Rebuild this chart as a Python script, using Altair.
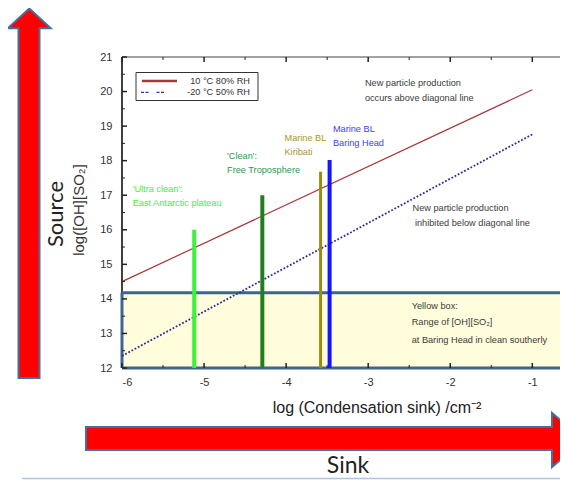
import altair as alt
import pandas as pd

# ---------------- data ----------------
series_names = ["10 °C 80% RH", "-20 °C 50% RH"]
line_x = [-6.0, -1.0]
warm_y = [14.5, 20.05]      # 10 °C 80% RH
cold_y = [12.35, 18.76]     # -20 °C 50% RH

site_names = ["East Antarctic plateau", "Free Troposphere", "Marine BL Kiribati", "Marine BL Baring Head"]
site_x = [-5.12, -4.29, -3.58, -3.47]
site_top = [16.0, 17.0, 17.68, 18.02]
site_base = 12.0

box_range = [12.0, 14.18]

x_tick_labels = [-6, -5, -4, -3, -2, -1]
x_minor = [-5.5, -4.5, -3.5, -2.5, -1.5]
y_tick_labels = [12, 13, 14, 15, 16, 17, 18, 19, 20, 21]
y_minor = [12.5, 13.5, 14.5, 15.5, 16.5, 17.5, 18.5, 19.5, 20.5]

ann_text = ["'Ultra clean':", "East Antarctic plateau",
            "'Clean':", "Free Troposphere",
            "Marine BL", "Kiribati",
            "Marine BL", "Baring Head",
            "New particle production", "occurs above diagonal line",
            "New particle production", "inhibited below diagonal line",
            "Yellow box:", "Range of [OH][SO₂]", "at Baring Head in clean southerly"]
ann_x = [-5.87, -5.87, -4.72, -4.72, -4.02, -4.02, -3.43, -3.43,
         -3.04, -3.04, -2.46, -2.43, -2.47, -2.47, -2.47]
ann_y = [17.18, 16.77, 18.14, 17.73, 18.65, 18.25, 18.92, 18.50,
         20.24, 19.82, 16.62, 16.19, 13.80, 13.34, 12.81]
ann_group = [0, 0, 1, 1, 2, 2, 3, 3, 4, 4, 4, 4, 4, 4, 4]

# ---------------- styles ----------------
site_colors = ["#3cf23c", "#1f7f1f", "#9a8c12", "#1414ff"]
site_widths = [4, 4, 3, 4]
ann_colors = ["#3ef03e", "#2f9a4f", "#a8962a", "#4040ff", "#3a3a3a"]
FONT = "Liberation Sans"
W, H = 438, 311
XMAX = -6 + W / 82.06

XS = alt.Scale(domain=[-6, XMAX], nice=False, zero=False)
YS = alt.Scale(domain=[12, 21], nice=False, zero=False)
XAX = alt.Axis(values=x_tick_labels, labelExpr="'' + datum.value", ticks=False, tickSize=0,
               domain=False, grid=False, labelPadding=8, labelFontSize=11, labelFont=FONT,
               labelColor="#333333", title=None)
YAX = alt.Axis(values=y_tick_labels, labelExpr="'' + datum.value", ticks=False, tickSize=0,
               domain=False, grid=False, labelPadding=10, labelFontSize=11, labelFont=FONT,
               labelColor="#333333", title=None)


def X(f="x"):
    return alt.X(f"{f}:Q", scale=XS, axis=XAX, title=None)


def Y(f="y"):
    return alt.Y(f"{f}:Q", scale=YS, axis=YAX, title=None)


one = alt.Data(values=[{"a": 1}])

# yellow box
box_df = pd.DataFrame({"x": [-6.0], "x2": [XMAX], "y": [box_range[0]], "y2": [box_range[1]]})
box_fill = alt.Chart(box_df).mark_rect(fill="#fffddc").encode(
    x=X(), x2="x2:Q", y=Y(), y2="y2:Q")

border_df = pd.DataFrame({
    "x": [-6.0, -6.0, -6.0], "x2": [XMAX, XMAX, -6.0],
    "y": [box_range[1], box_range[0], box_range[0]],
    "y2": [box_range[1], box_range[0], box_range[1]]})
box_border = alt.Chart(border_df).mark_rule(color="#3d6590", strokeWidth=3).encode(
    x=X(), x2="x2:Q", y=Y(), y2="y2:Q")

# plot frame (top and left; the right side runs off the picture)
frame_top = alt.Chart(one).mark_rule(color="#444444", strokeWidth=1).encode(
    x=alt.value(0), x2=alt.value(W), y=alt.value(0), y2=alt.value(0))
frame_left = alt.Chart(one).mark_rule(color="#111111", strokeWidth=1.6).encode(
    x=alt.value(0), x2=alt.value(0), y=alt.value(0), y2=alt.value(H))

# diagonal lines
warm_df = pd.DataFrame({"x": line_x, "y": warm_y})
cold_df = pd.DataFrame({"x": line_x, "y": cold_y})
warm = alt.Chart(warm_df).mark_line(color="#a83838", strokeWidth=1.2).encode(x=X(), y=Y())
cold = alt.Chart(cold_df).mark_line(color="#2b2b9a", strokeWidth=1.8, strokeDash=[1.8, 1.8]).encode(x=X(), y=Y())

# site bars
site_df = pd.DataFrame({"site": site_names, "x": site_x, "y": [site_base] * 4, "y2": site_top,
                        "c": site_colors, "w": site_widths})
bars = alt.Chart(site_df).mark_rule().encode(
    x=X(), y=Y(), y2="y2:Q",
    color=alt.Color("c:N", scale=None),
    strokeWidth=alt.StrokeWidth("w:Q", scale=None))


# tick marks (inward)
def xticks(vals, y0, y1, w):
    return alt.Chart(pd.DataFrame({"x": vals})).mark_rule(color="#222222", strokeWidth=w).encode(
        x=X(), y=alt.value(y0), y2=alt.value(y1))


def yticks(vals, x0, x1, w):
    return alt.Chart(pd.DataFrame({"y": vals})).mark_rule(color="#222222", strokeWidth=w).encode(
        y=Y(), x=alt.value(x0), x2=alt.value(x1))


ticks = [
    xticks(x_tick_labels, 0, 5, 1.5), xticks(x_minor, 0, 3, 1),
    xticks(x_tick_labels, H, H - 5, 1.5), xticks(x_minor, H, H - 3, 1),
    yticks(y_tick_labels, 0, 5, 1.5), yticks(y_minor, 0, 3, 1),
]

# annotations
ann_df = pd.DataFrame({"text": ann_text, "x": ann_x, "y": ann_y,
                       "c": [ann_colors[g] for g in ann_group]})
ann = alt.Chart(ann_df).mark_text(align="left", baseline="middle", font=FONT, fontSize=9.2).encode(
    x=X(), y=Y(), text="text:N", color=alt.Color("c:N", scale=None))

# legend (drawn)
leg_box = alt.Chart(one).mark_rect(fill="white", stroke="#333333", strokeWidth=1).encode(
    x=alt.value(14), x2=alt.value(136), y=alt.value(15.5), y2=alt.value(43.5))
leg_warm = alt.Chart(one).mark_rule(color="#a83838", strokeWidth=2.5).encode(
    x=alt.value(20), x2=alt.value(55), y=alt.value(24), y2=alt.value(24))
leg_cold = alt.Chart(one).mark_rule(color="#3030c0", strokeWidth=1.3, strokeDash=[3, 1.5, 3, 8]).encode(
    x=alt.value(19), x2=alt.value(45), y=alt.value(35.3), y2=alt.value(35.3))
leg_t1 = alt.Chart(one).mark_text(text=series_names[0], align="right", baseline="middle", font=FONT,
                                  fontSize=9.2, color="#333333").encode(x=alt.value(128), y=alt.value(24))
leg_t2 = alt.Chart(one).mark_text(text=series_names[1], align="right", baseline="middle", font=FONT,
                                  fontSize=9.2, color="#333333").encode(x=alt.value(128), y=alt.value(35.3))

# titles
ytitle = alt.Chart(one).mark_text(text="log([OH][SO₂]", angle=270, align="center", baseline="middle",
                                  font=FONT, fontSize=15, color="#333333").encode(
    x=alt.value(-43), y=alt.value(153))
source = alt.Chart(one).mark_text(text="Source", angle=270, align="center", baseline="middle",
                                  font="Lato", fontSize=22, color="#222222").encode(
    x=alt.value(-66), y=alt.value(157))
xtitle = alt.Chart(one).mark_text(text="log (Condensation sink) /cm⁻²", align="center", baseline="middle",
                                  font=FONT, fontSize=16, color="#222222").encode(
    x=alt.value(255), y=alt.value(351))
sink = alt.Chart(one).mark_text(text="Sink", align="center", baseline="alphabetic",
                                font="Lato", fontSize=23, color="#222222").encode(
    x=alt.value(226), y=alt.value(416))
bottom_line = alt.Chart(one).mark_rule(color="#a9c6e4", strokeWidth=1.5).encode(
    x=alt.value(-100), x2=alt.value(W), y=alt.value(421.5), y2=alt.value(421.5))

# arrows (custom symbol paths in pixels; size 4 -> unit scale)
up_path = ("M-92.7,-48.5 L-71.3,-28.7 L-82.5,-28.7 L-82.5,321 L-103.5,321 "
           "L-103.5,-28.7 L-114.3,-28.7 Z")
right_path = "M-36,370 L430,370 L430,356 L462,383 L430,410 L430,393 L-36,393 Z"
up_arrow = alt.Chart(one).mark_point(shape=up_path, size=4, filled=True, fill="#ff0000", stroke="#41719c",
                                     strokeWidth=2, opacity=1).encode(x=alt.value(0), y=alt.value(0))
right_arrow = alt.Chart(one).mark_point(shape=right_path, size=4, filled=True, fill="#ff0000",
                                        stroke="#41719c", strokeWidth=2, opacity=1).encode(
    x=alt.value(0), y=alt.value(0))

chart = alt.layer(
    box_fill, frame_top, frame_left, box_border, warm, cold, bars, *ticks, ann,
    leg_box, leg_warm, leg_cold, leg_t1, leg_t2,
    ytitle, source, xtitle, sink, bottom_line, up_arrow, right_arrow,
).properties(
    width=W, height=H,
    padding={"left": 114, "top": 49, "right": 0, "bottom": 112},
    autosize=alt.AutoSizeParams(type="none"),
).configure_view(stroke="transparent")

chart.save("out.html", embed_options={"renderer": "svg", "actions": False})
